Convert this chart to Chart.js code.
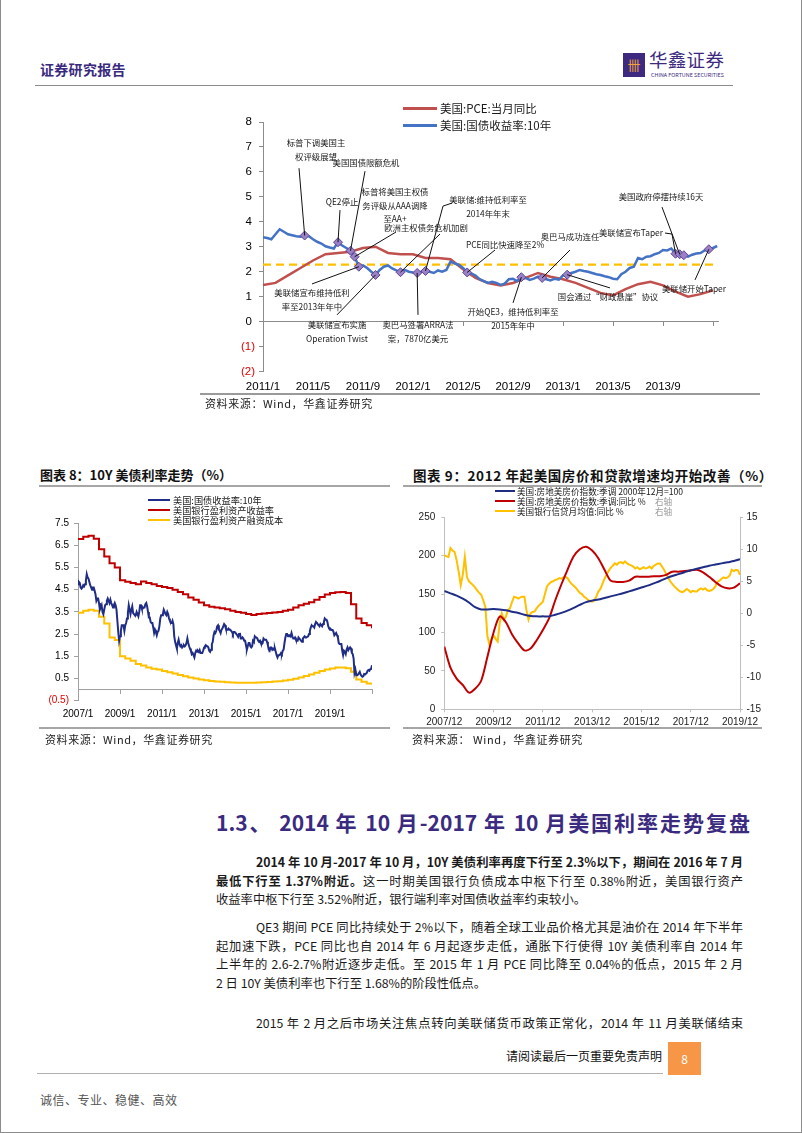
<!DOCTYPE html>
<html lang="zh-CN">
<head>
<meta charset="utf-8">
<title>证券研究报告 - 美国利率走势复盘</title>
<script src="https://cdn.jsdelivr.net/npm/chart.js@4.4.1/dist/chart.umd.min.js"></script>
<style>
  html, body { margin: 0; padding: 0; background: #fff; }
  body { position: relative; width: 802px; height: 1133px; overflow: hidden;
         font-family: "Noto Sans CJK SC", sans-serif; color: #1a1a1a; }
  .abs { position: absolute; white-space: nowrap; }
  .rule { position: absolute; height: 1px; background: #9a9a9a; }
  #frame { position: absolute; left: 0; top: 0; width: 802px; height: 1133px; box-sizing: border-box;
           border: 1px solid #8c8c8c; border-top: none; pointer-events: none; }
  canvas { position: absolute; }
  .legend div { display: flex; align-items: center; }
  .legend i { display: inline-block; flex: none; }
  .src { font-size: 11px; color: #222; letter-spacing: 0.6px; }
  .fig-title { font-size: 13px; font-weight: bold; color: #111; }
  .para { position: absolute; left: 216px; width: 527px; font-size: 12.3px; color: #1a1a1a; }
  .para div { height: 18.5px; line-height: 18.5px; overflow: hidden; text-align: justify; text-align-last: justify; }
  .para div.first { text-indent: 40px; }
  .para div.end { text-align-last: left; }
</style>
</head>
<body>
<div id="frame"></div>

<!-- header -->
<div class="abs" style="left:40px;top:59px;font-size:14px;font-weight:bold;color:#3a2a7e;letter-spacing:0.3px">证券研究报告</div>
<div class="abs" style="left:623px;top:53px;width:22px;height:24px;background:#3d2a80;color:#f2a23a;font-size:13px;line-height:24px;text-align:center">卌</div>
<div class="abs" style="left:649px;top:46px;font-size:18.5px;color:#3d2a80;letter-spacing:0.3px">华鑫证券</div>
<div class="abs" style="left:651px;top:71px;font-size:6px;color:#3d2a80;transform:scale(0.9);transform-origin:left top">CHINA FORTUNE SECURITIES</div>
<div class="rule" style="left:35px;top:85px;width:698px;background:#8c8c8c"></div>

<!-- top chart -->
<canvas id="pce-yield-chart" width="560" height="295" style="left:200px;top:100px"></canvas>
<div class="abs legend" style="left:403px;top:100px;font-size:11.5px;line-height:17px">
  <div><i style="width:34px;height:3px;background:#c0504d;margin-right:3px"></i>美国:PCE:当月同比</div>
  <div><i style="width:34px;height:3px;background:#4472c4;margin-right:3px"></i>美国:国债收益率:10年</div>
</div>
<div class="rule" style="left:200px;top:393px;width:560px;height:1.5px"></div>
<div class="abs src" style="left:205px;top:395px">资料来源：Wind，华鑫证券研究</div>

<!-- figure 8 -->
<div class="abs fig-title" style="left:40px;top:465px">图表 8：10Y 美债利率走势（%）</div>
<div class="rule" style="left:39px;top:485px;width:351px;height:2px;background:#a6a6a6"></div>
<canvas id="bank-rate-chart" width="352" height="240" style="left:38px;top:490px"></canvas>
<div class="abs legend" style="left:148px;top:495px;font-size:9.2px;line-height:10px">
  <div><i style="width:22px;height:2.5px;background:#1f2d86;margin-right:3px"></i>美国:国债收益率:10年</div>
  <div><i style="width:22px;height:2.5px;background:#c00000;margin-right:3px"></i>美国银行盈利资产收益率</div>
  <div><i style="width:22px;height:2.5px;background:#ffc000;margin-right:3px"></i>美国银行盈利资产融资成本</div>
</div>
<div class="rule" style="left:39px;top:727px;width:351px;height:2px;background:#a6a6a6"></div>
<div class="abs src" style="left:45px;top:731px">资料来源：Wind，华鑫证券研究</div>

<!-- figure 9 -->
<div class="abs fig-title" style="left:413px;top:465px;font-size:13.5px;letter-spacing:0.6px">图表 9：2012 年起美国房价和贷款增速均开始改善（%）</div>
<div class="rule" style="left:403px;top:485px;width:359px;height:2px;background:#a6a6a6"></div>
<canvas id="house-credit-chart" width="360" height="240" style="left:403px;top:490px"></canvas>
<div class="abs legend" style="left:495px;top:486px;font-size:8.6px;line-height:10px">
  <div><i style="width:20px;height:2px;background:#1f2d86;margin-right:2px"></i>美国:房地美房价指数:季调 2000年12月=100</div>
  <div><i style="width:20px;height:2px;background:#c00000;margin-right:2px"></i>美国:房地美房价指数:季调:同比 %<span style="position:absolute;left:160px;color:#999">右轴</span></div>
  <div><i style="width:20px;height:2px;background:#ffc000;margin-right:2px"></i>美国银行信贷月均值:同比 %<span style="position:absolute;left:160px;color:#999">右轴</span></div>
</div>
<div class="rule" style="left:403px;top:727px;width:359px;height:2px;background:#a6a6a6"></div>
<div class="abs src" style="left:412px;top:731px">资料来源： Wind，华鑫证券研究</div>

<!-- section text -->
<div class="abs" style="left:216px;top:808px;width:534px;font-size:21px;line-height:28px;font-weight:bold;color:#3a2a80;text-align:justify;text-align-last:justify">1.3、 2014 年 10 月-2017 年 10 月美国利率走势复盘</div>

<div class="para" style="top:853px">
  <div class="first"><b>2014 年 10 月-2017 年 10 月，10Y 美债利率再度下行至 2.3%以下，期间在 2016 年 7 月</b></div>
  <div><b>最低下行至 1.37%附近。</b>这一时期美国银行负债成本中枢下行至 0.38%附近，美国银行资产</div>
  <div class="end">收益率中枢下行至 3.52%附近，银行端利率对国债收益率约束较小。</div>
</div>
<div class="para" style="top:918px">
  <div class="first">QE3 期间 PCE 同比持续处于 2%以下，随着全球工业品价格尤其是油价在 2014 年下半年</div>
  <div>起加速下跌，PCE 同比也自 2014 年 6 月起逐步走低，通胀下行使得 10Y 美债利率自 2014 年</div>
  <div>上半年的 2.6-2.7%附近逐步走低。至 2015 年 1 月 PCE 同比降至 0.04%的低点，2015 年 2 月</div>
  <div class="end">2 日 10Y 美债利率也下行至 1.68%的阶段性低点。</div>
</div>
<div class="para" style="top:1014px">
  <div class="first">2015 年 2 月之后市场关注焦点转向美联储货币政策正常化，2014 年 11 月美联储结束</div>
</div>

<!-- footer -->
<div class="abs" style="left:506px;top:1047px;font-size:12px;color:#111">请阅读最后一页重要免责声明</div>
<div class="rule" style="left:37px;top:1073px;width:626px;background:#b0b0b0"></div>
<div class="abs" style="left:668px;top:1042px;width:33px;height:33px;background:#f79646;color:#fff;font-size:12px;line-height:33px;text-align:center">8</div>
<div class="abs" style="left:40px;top:1091px;font-size:12px;color:#555;letter-spacing:0.5px">诚信、专业、稳健、高效</div>

<script>
// ---------- 图：2011-2013 PCE 与 10 年期美债（事件标注） ----------
const monthTicks2011 = ['2011/1', '2011/5', '2011/9', '2012/1', '2012/5', '2012/9', '2013/1', '2013/5', '2013/9'];

// 美国:PCE:当月同比，2011/1 起逐月
const pceYoY = [1.47, 1.55, 1.85, 2.15, 2.45, 2.7, 2.75, 2.8, 2.95, 3.0, 2.75, 2.7,
                2.7, 2.55, 2.55, 2.5, 2.1, 1.75, 1.55, 1.45, 1.55, 1.75, 1.95, 1.8,
                1.7, 1.55, 1.35, 1.15, 1.05, 1.3, 1.5, 1.6, 1.45, 1.2, 1.0, 1.1, 1.25];

// 美国:国债收益率:10年，2011/1 起每月三个读数
const ust10y2011 = [3.38, 3.35, 3.30, 3.50, 3.70, 3.60, 3.50, 3.46, 3.42, 3.40,
                    3.45, 3.42, 3.30, 3.20, 3.13, 3.02, 2.97, 2.93, 3.18, 3.05,
                    2.95, 2.84, 2.60, 2.20, 2.25, 2.15, 2.00, 1.87, 2.07, 2.20,
                    2.25, 2.13, 2.05, 1.98, 2.07, 2.00, 1.97, 1.95, 2.00, 2.03,
                    2.00, 1.95, 2.05, 2.00, 2.07, 2.40, 2.33, 2.28, 2.15, 1.97,
                    1.93, 1.85, 1.70, 1.62, 1.55, 1.60, 1.55, 1.47, 1.52, 1.70,
                    1.72, 1.62, 1.78, 1.75, 1.67, 1.72, 1.80, 1.75, 1.70, 1.65,
                    1.72, 1.68, 1.85, 1.88, 1.95, 2.00, 2.07, 2.03, 2.00, 1.95,
                    1.90, 1.87, 1.82, 1.78, 1.72, 1.70, 1.90, 2.00, 2.15, 2.20,
                    2.55, 2.50, 2.60, 2.62, 2.70, 2.75, 2.87, 2.85, 2.93, 2.72,
                    2.70, 2.66, 2.60, 2.68, 2.73, 2.75, 2.85, 2.90, 2.95, 3.03];
const dashedLevel = 2.28;

// 事件：idx 为 ust10y2011 中的位置；at/from/via 为文字与引线的 [月, 值] 位置
const rateEvents = [
  { text: ['标普下调美国主', '权评级展望'], idx: 10, at: [4.24, 7.15], from: [2.88, 6.15] },
  { text: ['美国国债限额危机'], idx: 21, at: [8.24, 6.35], from: [8.16, 6.03] },
  { text: ['QE2停止'], idx: 18, at: [6.32, 4.79], from: [6.16, 4.47] },
  { text: ['标普将美国主权债', '务评级从AAA调降', '至AA+'], idx: 22, at: [10.56, 5.19], from: [10.64, 3.59], gap: 13.5 },
  { text: ['欧洲主权债务危机加剧'], idx: 33, at: [13.04, 3.75], from: [14.16, 3.51] },
  { text: ['美联储:维持低利率至', '2014年年末'], idx: 39, at: [18.0, 4.9], from: [15.12, 4.75], via: [14.4, 4.63] },
  { text: ['奥巴马签署ARRA法', '案，7870亿美元'], idx: 37, at: [12.4, -0.13], from: [12.4, 0.27] },
  { text: ['美联储宣布维持低利', '率至2013年年中'], idx: 23, at: [3.92, 1.15], from: [3.92, 1.51] },
  { text: ['美联储宣布实施', 'Operation Twist'], idx: 27, at: [5.92, -0.13], from: [5.92, 0.27] },
  { text: ['PCE同比快速降至2%'], idx: 49, at: [19.36, 3.07], from: [18.56, 2.87] },
  { text: ['奥巴马成功连任'], idx: 67, at: [24.56, 3.4], from: [24.56, 2.87] },
  { text: ['美联储宣布Taper'], idx: 99, at: [29.44, 3.55], from: [32.16, 3.55], via: [32.72, 3.51] },
  { text: ['美国政府停摆持续16天'], idx: 100, at: [31.84, 4.99], from: [31.92, 4.59] },
  { text: ['美联储开始Taper'], idx: 107, at: [34.48, 1.31], from: [34.56, 1.67] },
  { text: ['国会通过“财政悬崖”协议'], idx: 73, at: [27.6, 0.99], from: [27.76, 1.35] },
  { text: ['开始QE3，维持低利率至', '2015年年中'], idx: 62, at: [20.0, 0.39], from: [20.0, 0.75] }
];
const extraMarkerIdx = [101];

// ---------- 图表 8 ----------
const yearTicks2007 = ['2007/1', '2009/1', '2011/1', '2013/1', '2015/1', '2017/1', '2019/1'];

// 10Y 美债，2007/1 起每月两个读数
const ust10y2007 = [
  4.75, 4.85, 4.8, 4.6, 4.55, 4.6, 4.7, 4.65, 4.75, 4.9, 5.2, 5.05, 5.0, 4.85, 4.7, 4.6, 4.5, 4.6, 4.6, 4.45, 4.3, 4.0, 4.1, 4.1,
  3.9, 3.6, 3.7, 3.8, 3.5, 3.4, 3.6, 3.8, 3.85, 4.0, 4.1, 4.0, 3.9, 4.05, 3.9, 3.8, 3.7, 3.8, 3.9, 3.8, 3.6, 3.1, 2.6, 2.2,
  2.4, 2.65, 2.9, 2.9, 2.9, 2.65, 2.9, 3.0, 3.2, 3.45, 3.8, 3.6, 3.4, 3.6, 3.75, 3.45, 3.4, 3.35, 3.35, 3.5, 3.4, 3.3, 3.5, 3.8,
  3.8, 3.65, 3.65, 3.7, 3.7, 3.85, 3.9, 3.75, 3.5, 3.25, 3.25, 3.05, 3.0, 3.0, 2.8, 2.55, 2.7, 2.6, 2.45, 2.6, 2.65, 2.85, 3.2, 3.35,
  3.35, 3.4, 3.6, 3.5, 3.4, 3.35, 3.5, 3.4, 3.2, 3.1, 3.0, 3.0, 3.1, 2.95, 2.4, 2.15, 2.0, 1.85, 2.1, 2.25, 2.05, 1.95, 2.0, 1.9,
  1.95, 2.0, 1.95, 2.0, 2.1, 2.3, 2.1, 1.95, 1.85, 1.75, 1.6, 1.65, 1.55, 1.45, 1.65, 1.75, 1.7, 1.75, 1.7, 1.78, 1.65, 1.65, 1.65, 1.75,
  1.88, 1.95, 2.0, 1.95, 1.95, 1.9, 1.75, 1.7, 1.8, 2.05, 2.15, 2.45, 2.6, 2.55, 2.65, 2.85, 2.9, 2.7, 2.65, 2.55, 2.7, 2.75, 2.85, 2.95,
  2.9, 2.75, 2.7, 2.7, 2.75, 2.7, 2.7, 2.65, 2.6, 2.5, 2.6, 2.6, 2.55, 2.5, 2.45, 2.38, 2.5, 2.55, 2.3, 2.3, 2.35, 2.3, 2.2, 2.2,
  2.0, 1.8, 1.95, 2.1, 2.1, 1.95, 1.9, 1.95, 2.2, 2.15, 2.4, 2.35, 2.35, 2.3, 2.2, 2.15, 2.2, 2.1, 2.05, 2.1, 2.3, 2.25, 2.25, 2.25,
  2.15, 2.0, 1.8, 1.75, 1.9, 1.9, 1.8, 1.85, 1.8, 1.85, 1.7, 1.55, 1.45, 1.55, 1.55, 1.58, 1.65, 1.6, 1.75, 1.8, 2.1, 2.35, 2.5, 2.5,
  2.4, 2.45, 2.45, 2.4, 2.55, 2.4, 2.3, 2.3, 2.35, 2.25, 2.2, 2.2, 2.35, 2.3, 2.25, 2.2, 2.15, 2.3, 2.35, 2.4, 2.35, 2.35, 2.38, 2.4,
  2.5, 2.65, 2.8, 2.9, 2.85, 2.85, 2.8, 2.95, 3.05, 3.0, 2.95, 2.9, 2.85, 2.95, 2.9, 2.85, 2.95, 3.05, 3.2, 3.15, 3.15, 3.05, 2.85, 2.75,
  2.7, 2.72, 2.68, 2.68, 2.6, 2.45, 2.5, 2.55, 2.45, 2.35, 2.1, 2.05, 2.05, 2.05, 1.75, 1.55, 1.75, 1.7, 1.6, 1.8, 1.9, 1.78, 1.85, 1.9,
  1.85, 1.65, 1.6, 1.4, 0.75, 0.9, 0.65, 0.65, 0.68, 0.68, 0.8, 0.68, 0.62, 0.58, 0.6, 0.7, 0.68, 0.68, 0.75, 0.85, 0.88, 0.85, 0.92, 0.93,
  1.1
];
// 美国银行盈利资产收益率 / 融资成本，2007Q1 起按季
const bankAssetYield = [6.78, 6.89, 6.93, 6.8, 6.32, 5.99, 5.69, 5.5,
                        4.93, 4.86, 4.8, 4.74, 4.87, 4.8, 4.75, 4.67,
                        4.62, 4.58, 4.5, 4.4, 4.3, 4.15, 4.05, 3.92,
                        3.8, 3.73, 3.7, 3.66, 3.62, 3.55, 3.5, 3.46,
                        3.4, 3.36, 3.4, 3.43, 3.45, 3.47, 3.5, 3.55,
                        3.6, 3.7, 3.8, 3.87, 3.94, 4.05, 4.17, 4.28,
                        4.35, 4.38, 4.4, 4.35, 3.85, 3.2, 3.0, 2.9, 2.76];
const bankFundingCost = [3.46, 3.55, 3.6, 3.55, 3.28, 2.98, 2.35, 2.23,
                         1.5, 1.4, 1.3, 1.15, 1.08, 1.0, 0.94, 0.9,
                         0.84, 0.78, 0.72, 0.66, 0.6, 0.55, 0.5, 0.45,
                         0.42, 0.39, 0.37, 0.35, 0.33, 0.32, 0.31, 0.31,
                         0.31, 0.31, 0.32, 0.33, 0.34, 0.36, 0.38, 0.41,
                         0.44, 0.49, 0.54, 0.61, 0.68, 0.76, 0.84, 0.9,
                         0.95, 1.0, 1.0, 0.96, 0.8, 0.45, 0.35, 0.28, 0.22];

// ---------- 图表 9 ----------
const yearTicks2007Dec = ['2007/12', '2009/12', '2011/12', '2013/12', '2015/12', '2017/12', '2019/12'];

// 房地美房价指数（左轴），2007/12 起按季
const fmhpiIndex = [154, 151, 148, 144, 139, 133, 130, 130, 130.5, 130,
                    129, 127, 125.5, 123, 121.5, 121, 121, 121, 123, 125.5,
                    128.5, 132, 136, 139.5, 141.5, 143, 145, 147, 149, 151,
                    153.5, 156, 158.5, 161, 164, 167, 170.5, 173.5, 176, 178.5,
                    181, 183, 185, 187, 188.5, 190, 191.5, 193, 195.5];
// 房价指数同比（右轴），按季
const fmhpiYoY = [-5.2, -8.5, -10.2, -11.2, -12.4, -11.8, -10.5, -6.8, -3.0, -0.5,
                  -1.4, -3.3, -4.7, -5.8, -5.5, -4.2, -2.6, -0.8, 2.0, 4.5,
                  6.8, 8.9, 10.0, 10.4, 9.8, 8.6, 6.8, 5.1, 4.9, 4.9,
                  5.1, 5.7, 5.7, 5.7, 5.8, 5.8, 6.0, 6.5, 6.5, 6.6,
                  6.7, 6.8, 6.4, 5.7, 4.9, 4.2, 3.9, 4.0, 4.7];
// 银行信贷月均值同比（右轴），逐月
const bankCreditYoY = [9.1, 8.9, 8.8, 10.2, 9.8, 9.6, 8.3, 6.5, 4.4, 6.0,
                       8.8, 5.7, 5.0, 4.7, 4.4, 4.0, 3.6, 3.2, 2.9, 2.0,
                       1.0, -3.6, -4.9, -4.0, -3.4, -4.0, -4.4, -1.5, 0.0, -1.0,
                       -0.5, 0.5, 0.8, 1.8, 2.6, 2.5, 2.3, 2.5, 2.6, 2.6,
                       0.5, -1.0, 0.0, 0.2, 0.3, 0.8, 1.2, 1.5, 1.8, 3.0,
                       4.2, 4.6, 4.9, 5.0, 5.2, 5.3, 5.5, 5.4, 5.6, 5.7,
                       5.5, 5.0, 4.6, 4.3, 4.0, 3.6, 3.2, 3.0, 2.6, 2.4,
                       2.1, 1.9, 1.8, 2.0, 2.6, 3.4, 3.8, 4.6, 5.4, 6.0,
                       6.6, 7.1, 7.4, 7.8, 7.6, 7.9, 8.0, 7.8, 8.1, 7.8,
                       7.6, 7.5, 7.3, 7.0, 7.2, 6.9, 7.0, 7.2, 7.0, 7.1,
                       7.3, 7.0, 7.4, 7.6, 7.8, 7.8, 7.3, 6.8, 6.2, 5.6,
                       5.0, 4.6, 4.2, 3.9, 3.6, 3.4, 3.3, 3.5, 3.8, 3.6,
                       3.3, 3.5, 3.4, 3.4, 3.7, 3.9, 3.7, 3.9, 3.6, 3.5,
                       3.6, 3.8, 4.2, 4.9, 5.1, 5.4, 5.6, 5.5, 5.6, 5.9,
                       6.8, 6.6, 6.8, 6.7, 6.0];

document.addEventListener('DOMContentLoaded', function() {
    Chart.defaults.font.family = '"Liberation Sans", Arial, sans-serif';
    Chart.defaults.color = '#000';
    Chart.defaults.animation = false;
    Chart.defaults.plugins.legend.display = false;
    Chart.defaults.plugins.tooltip.enabled = false;

    createPceYieldChart();
    createBankRateChart();
    createHouseCreditChart();

    function toPoints(values, step) {
        return values.map((v, i) => ({ x: i * step, y: v }));
    }

    function createPceYieldChart() {
        const ctx = document.getElementById('pce-yield-chart').getContext('2d');
        const markerIdx = [...new Set(rateEvents.map(e => e.idx).concat(extraMarkerIdx))];

        const eventNotes = {
            id: 'eventNotes',
            afterDatasetsDraw(chart) {
                const { ctx, scales: { x, y } } = chart;
                ctx.save();
                ctx.strokeStyle = '#111';
                ctx.lineWidth = 1;
                rateEvents.forEach(e => {
                    ctx.beginPath();
                    ctx.moveTo(x.getPixelForValue(e.from[0]), y.getPixelForValue(e.from[1]));
                    if (e.via) ctx.lineTo(x.getPixelForValue(e.via[0]), y.getPixelForValue(e.via[1]));
                    ctx.lineTo(x.getPixelForValue(e.idx / 3), y.getPixelForValue(ust10y2011[e.idx]));
                    ctx.stroke();
                });
                ctx.font = '8.4px "Noto Sans CJK SC", sans-serif';
                ctx.fillStyle = '#1a1a1a';
                ctx.textAlign = 'center';
                ctx.textBaseline = 'middle';
                rateEvents.forEach(e => {
                    const cx = x.getPixelForValue(e.at[0]);
                    const cy = y.getPixelForValue(e.at[1]);
                    e.text.forEach((line, k) => ctx.fillText(line, cx, cy + k * (e.gap || 14)));
                });
                ctx.restore();
            }
        };

        new Chart(ctx, {
            type: 'line',
            data: {
                datasets: [
                    {
                        type: 'scatter',
                        data: markerIdx.map(i => ({ x: i / 3, y: ust10y2011[i] })),
                        pointStyle: 'rectRot',
                        pointRadius: 4.5,
                        backgroundColor: '#9a80c6',
                        borderColor: '#5e4592',
                        borderWidth: 1
                    },
                    {
                        label: '美国:国债收益率:10年',
                        data: toPoints(ust10y2011, 1 / 3),
                        borderColor: '#4472c4',
                        borderWidth: 2.5,
                        pointRadius: 0,
                        tension: 0
                    },
                    {
                        label: '美国:PCE:当月同比',
                        data: toPoints(pceYoY, 1),
                        borderColor: '#c0504d',
                        borderWidth: 2.5,
                        pointRadius: 0,
                        tension: 0
                    },
                    {
                        data: [{ x: 0, y: dashedLevel }, { x: 36.4, y: dashedLevel }],
                        borderColor: '#ffc000',
                        borderWidth: 2.2,
                        borderDash: [8, 5],
                        pointRadius: 0
                    }
                ]
            },
            options: {
                responsive: false,
                layout: { padding: { top: 22, right: 42, left: 0, bottom: 0 } },
                scales: {
                    x: {
                        type: 'linear', min: 0, max: 36.4,
                        border: { display: false },
                        grid: { display: false },
                        ticks: {
                            stepSize: 4, includeBounds: false, autoSkip: false, maxRotation: 0, padding: 0.5,
                            font: { size: 11.5 },
                            callback: v => monthTicks2011[v / 4] ?? ''
                        },
                        afterFit: s => { s.height = 23.5; }
                    },
                    xZero: {
                        axis: 'x', type: 'linear', position: { y: 0 }, min: 0, max: 36.4,
                        ticks: { display: false, stepSize: 4, includeBounds: false },
                        grid: { drawOnChartArea: false, drawTicks: true, tickLength: 4, color: '#8c8c8c' },
                        border: { color: '#8c8c8c' }
                    },
                    y: {
                        min: -2, max: 8,
                        ticks: {
                            stepSize: 1, padding: 4,
                            font: { size: 11.5 },
                            color: c => c.tick.value < 0 ? '#e00000' : '#000',
                            callback: v => v < 0 ? '(' + (-v) + ')' : v + ' '
                        },
                        grid: { drawOnChartArea: false, tickLength: 4, color: '#8c8c8c' },
                        border: { color: '#8c8c8c' },
                        afterFit: s => { s.width = 63; }
                    }
                }
            },
            plugins: [eventNotes]
        });
    }

    function createBankRateChart() {
        const ctx = document.getElementById('bank-rate-chart').getContext('2d');

        new Chart(ctx, {
            type: 'line',
            data: {
                datasets: [
                    {
                        label: '美国:国债收益率:10年',
                        data: toPoints(ust10y2007, 0.5),
                        borderColor: '#1f2d86',
                        borderWidth: 2,
                        pointRadius: 0
                    },
                    {
                        label: '美国银行盈利资产收益率',
                        data: toPoints(bankAssetYield, 3),
                        borderColor: '#c00000',
                        borderWidth: 2,
                        pointRadius: 0,
                        stepped: true
                    },
                    {
                        label: '美国银行盈利资产融资成本',
                        data: toPoints(bankFundingCost, 3),
                        borderColor: '#ffc000',
                        borderWidth: 2,
                        pointRadius: 0,
                        stepped: true
                    }
                ]
            },
            options: {
                responsive: false,
                layout: { padding: { top: 33.1, right: 18, left: 0, bottom: 0 } },
                scales: {
                    x: {
                        type: 'linear', min: 0, max: 168,
                        border: { display: false },
                        grid: { display: false },
                        ticks: {
                            stepSize: 24, autoSkip: false, maxRotation: 0, padding: 0,
                            font: { size: 10 },
                            callback: v => yearTicks2007[v / 24] ?? ''
                        },
                        afterFit: s => { s.height = 29.3; }
                    },
                    xZero: {
                        axis: 'x', type: 'linear', position: { y: 0 }, min: 0, max: 168,
                        ticks: { display: false, stepSize: 24 },
                        grid: { drawOnChartArea: false, drawTicks: true, tickLength: 4, color: '#a0a0a0' },
                        border: { color: '#a0a0a0' }
                    },
                    y: {
                        min: -0.5, max: 7.5,
                        ticks: {
                            stepSize: 1, padding: 5,
                            font: { size: 10 },
                            color: c => c.tick.value < 0 ? '#e00000' : '#000',
                            callback: v => v < 0 ? '(' + Math.abs(v).toFixed(1) + ')' : v.toFixed(1)
                        },
                        grid: { drawOnChartArea: false, tickLength: 4, color: '#a0a0a0' },
                        border: { color: '#a0a0a0' },
                        afterFit: s => { s.width = 40; }
                    }
                }
            }
        });
    }

    function createHouseCreditChart() {
        const ctx = document.getElementById('house-credit-chart').getContext('2d');

        new Chart(ctx, {
            type: 'line',
            data: {
                datasets: [
                    {
                        label: '美国:房地美房价指数:季调 2000年12月=100',
                        data: toPoints(fmhpiIndex, 3),
                        borderColor: '#1f2d86',
                        borderWidth: 2,
                        pointRadius: 0,
                        tension: 0.3,
                        yAxisID: 'y'
                    },
                    {
                        label: '美国:房地美房价指数:季调:同比 %',
                        data: toPoints(fmhpiYoY, 3),
                        borderColor: '#c00000',
                        borderWidth: 2,
                        pointRadius: 0,
                        tension: 0.3,
                        yAxisID: 'y1'
                    },
                    {
                        label: '美国银行信贷月均值:同比 %',
                        data: toPoints(bankCreditYoY, 1),
                        borderColor: '#ffc000',
                        borderWidth: 2,
                        pointRadius: 0,
                        tension: 0,
                        yAxisID: 'y1'
                    }
                ]
            },
            options: {
                responsive: false,
                layout: { padding: { top: 27.3, right: 0, left: 0, bottom: 0 } },
                scales: {
                    x: {
                        type: 'linear', min: 0, max: 144,
                        border: { color: '#bfbfbf' },
                        grid: { drawOnChartArea: false, tickLength: 3, color: '#bfbfbf' },
                        ticks: {
                            stepSize: 24, autoSkip: false, maxRotation: 0, padding: 4,
                            font: { size: 10 }, color: '#222',
                            callback: v => yearTicks2007Dec[v / 24] ?? ''
                        },
                        afterFit: s => { s.height = 20.7; }
                    },
                    y: {
                        position: 'left', min: 0, max: 250,
                        ticks: { stepSize: 50, padding: 6, font: { size: 10 }, color: '#222' },
                        grid: { drawOnChartArea: false, tickLength: 3, color: '#bfbfbf' },
                        border: { color: '#bfbfbf' },
                        afterFit: s => { s.width = 41.3; }
                    },
                    y1: {
                        position: 'right', min: -15, max: 15,
                        ticks: { stepSize: 5, padding: 3.5, font: { size: 10 }, color: '#222' },
                        grid: { drawOnChartArea: false, tickLength: 3, color: '#bfbfbf' },
                        border: { color: '#bfbfbf' },
                        afterFit: s => { s.width = 23; }
                    }
                }
            }
        });
    }
});
</script>
</body>
</html>
